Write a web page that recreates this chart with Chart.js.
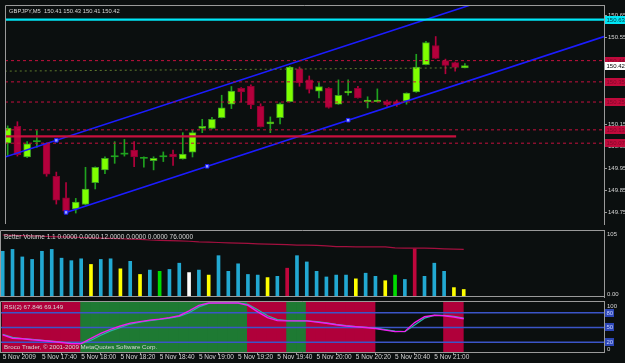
<!DOCTYPE html>
<html>
<head>
<meta charset="utf-8">
<title>GBPJPY,M5</title>
<script src="https://cdn.jsdelivr.net/npm/chart.js@4.4.1/dist/chart.umd.min.js"></script>
<style>
  html, body { margin: 0; padding: 0; background: #0b0f0f; }
  #terminal { position: relative; width: 625px; height: 363px; overflow: hidden; background: #0b0f0f; }
  #terminal canvas { position: absolute; left: 0; }
</style>
</head>
<body>
<div id="terminal">
  <canvas id="priceChart" width="625" height="229" style="top:0"></canvas>
  <canvas id="volumeChart" width="625" height="70" style="top:229px"></canvas>
  <canvas id="rsiChart" width="625" height="64" style="top:299px"></canvas>
</div>
<script>
// ---- data (5 Nov 2009, 17:20 .. 21:15, one bar per 5 min) ----
const symbol = 'GBPJPY,M5';

const opens = [150.066, 150.143, 150.003, 150.073, 150.066, 149.915, 149.816, 149.766, 149.786, 149.886,
  149.944, 150.004, 150.016, 150.034, 149.997, 149.986, 150.004, 150.016, 149.994, 150.025,
  150.133, 150.133, 150.183, 150.244, 150.316, 150.326, 150.234, 150.154, 150.183, 150.256,
  150.405, 150.355, 150.303, 150.316, 150.244, 150.295, 150.316, 150.256, 150.256, 150.256,
  150.256, 150.259, 150.300, 150.424, 150.512, 150.443, 150.434, 150.41];
const highs = [150.145, 150.164, 150.073, 150.124, 150.068, 149.934, 149.886, 149.814, 149.956, 149.958,
  150.004, 150.073, 150.083, 150.073, 150.004, 150.004, 150.026, 150.035, 150.114, 150.124,
  150.175, 150.184, 150.285, 150.325, 150.320, 150.333, 150.246, 150.186, 150.250, 150.417,
  150.414, 150.373, 150.343, 150.320, 150.355, 150.355, 150.326, 150.278, 150.314, 150.263,
  150.263, 150.296, 150.472, 150.531, 150.553, 150.450, 150.436, 150.43];
const lows = [150.009, 150.007, 150.000, 150.047, 149.915, 149.788, 149.750, 149.747, 149.784, 149.857,
  149.927, 149.974, 150.007, 149.959, 149.956, 149.944, 149.982, 149.964, 149.993, 150.003,
  150.114, 150.131, 150.181, 150.224, 150.254, 150.224, 150.140, 150.114, 150.154, 150.254,
  150.326, 150.295, 150.273, 150.226, 150.243, 150.285, 150.272, 150.227, 150.254, 150.234,
  150.234, 150.244, 150.298, 150.423, 150.452, 150.383, 150.395, 150.41];
const closes = [150.135, 150.014, 150.063, 150.073, 149.924, 149.806, 149.756, 149.797, 149.857, 149.956,
  149.997, 150.004, 150.016, 150.003, 149.997, 149.997, 150.004, 150.003, 150.016, 150.114,
  150.143, 150.175, 150.227, 150.304, 150.300, 150.241, 150.142, 150.164, 150.246, 150.414,
  150.341, 150.311, 150.325, 150.229, 150.284, 150.304, 150.273, 150.263, 150.263, 150.241,
  150.241, 150.295, 150.414, 150.525, 150.453, 150.421, 150.412, 150.42];

const priceTicks = [149.75, 149.85, 149.95, 150.05, 150.15, 150.25, 150.35, 150.45, 150.55, 150.65];
const askLevel = 150.63;
const dottedLevels = [150.443, 150.346, 150.254, 150.127, 150.066];
const solidLevel = { price: 150.097, untilBar: 46.1 };
const oliveLine = [[-0.3, 150.395], [46.3, 150.410]];
// channel: base line through two anchors, parallel through a third
const channelBase = [[6, 149.750], [35, 150.171]];
const channelTop = [5, 150.079];

const volumes = [73, 76, 64, 60, 73, 76, 62, 58, 61, 52, 60, 61, 45, 57, 36, 43, 41, 44, 54, 39,
  43, 35, 66, 41, 53, 36, 35, 31, 33, 46, 66, 56, 41, 32, 35, 35, 29, 38, 33, 26,
  35, 28, 77, 33, 54, 41, 15, 12];
const volumeKind = ['c', 'c', 'c', 'c', 'c', 'c', 'c', 'c', 'c', 'y', 'c', 'c', 'y', 'c', 'y', 'c', 'g', 'c', 'c', 'w',
  'c', 'y', 'c', 'c', 'c', 'c', 'c', 'y', 'c', 'r', 'c', 'c', 'c', 'c', 'c', 'c', 'y', 'c', 'c', 'y',
  'g', 'c', 'r', 'c', 'c', 'c', 'y', 'y'];
const volumeMA = [99, 98.5, 98, 97.5, 97, 96.5, 96, 95.5, 95, 94.5, 94, 93.5, 93, 92.5, 92, 91, 90.5, 90, 89.5, 89,
  88, 87.5, 87, 86.5, 86, 85.5, 85, 84.5, 84, 83.5, 83, 83, 82.5, 81.5, 80.5, 80.5, 80, 80, 80, 80,
  78.5, 78, 78, 78, 77.5, 77, 76.5, 76];
const volumeBuffers = [0, 0, 12, 0, 0, 76];
const volumeScaleMax = 105;

const rsiMain = [35, 28, 27, 25, 23.5, 21.5, 19.5, 17, 17, 28, 38, 46, 53, 59, 62, 65, 67, 70, 74, 84,
  95, 100, 100, 100, 100, 95, 82, 70, 64, 63.5, 63.5, 63.5, 61, 58.5, 55.5, 53, 51.5, 50, 48, 44.5,
  41.5, 42, 60, 72, 75, 74, 71.5, 67.846];
const rsiSignal = [36, 30, 27.5, 26, 24, 22, 20, 18, 17, 24, 34, 43, 50, 57, 61, 64, 66.5, 69, 72.5, 80,
  92, 99, 100, 100, 100, 97, 86, 74, 66, 64, 63.5, 63.5, 62, 59.5, 56.5, 54, 52, 50.5, 48.5, 45.5,
  42.5, 41.5, 55, 69, 74.5, 74.5, 72.5, 69.149];
const rsiZone = ['R', 'R', 'R', 'R', 'R', 'R', 'R', 'R', 'G', 'G', 'G', 'G', 'G', 'G', 'G', 'G', 'G', 'G', 'G', 'G',
  'G', 'G', 'G', 'G', 'G', 'R', 'R', 'R', 'R', 'G', 'G', 'R', 'R', 'R', 'R', 'R', 'R', 'R', '-', '-',
  '-', '-', '-', '-', '-', 'R', 'R', '-'];
const rsiLevels = [80, 50, 20];

const tickBars = [0, 4, 8, 12, 16, 20, 24, 28, 32, 36, 40, 44];
const timeLabels = ['5 Nov 2009', '5 Nov 17:40', '5 Nov 18:00', '5 Nov 18:20', '5 Nov 18:40', '5 Nov 19:00',
  '5 Nov 19:20', '5 Nov 19:40', '5 Nov 20:00', '5 Nov 20:20', '5 Nov 20:40', '5 Nov 21:00'];

// ---- look ----
const FRAME = '#9a9a9a';
const TEXT = '#d6d6d6';
const FONT = "'Liberation Sans', Arial, sans-serif";
const xMin = -0.275, xMax = 61.3;

const colors = {
  bullBody: '#7fff00', bullEdge: '#3d9e22', bullWick: '#1fa21f',
  bearBody: '#b4003c', bearEdge: '#8e0030', bearWick: '#b4003c',
  volume: { c: '#22a9d2', y: '#ffff00', g: '#00dc00', w: '#ffffff', r: '#c0063c' },
  zone: { R: '#b0003a', G: '#1e7a33' }
};

Chart.defaults.font.family = FONT;
Chart.defaults.color = TEXT;
Chart.defaults.animation = false;
Chart.defaults.responsive = false;
Chart.defaults.devicePixelRatio = 1;
Chart.defaults.plugins.legend.display = false;
Chart.defaults.plugins.tooltip.enabled = false;

const bars = opens.map((_, i) => i);
const isDoji = i => opens[i] === closes[i];
const isBull = i => closes[i] > opens[i];

function flatLine(price, from, to) {
  return [{ x: from, y: price }, { x: to, y: price }];
}

function lineSet(data, color, width, dash, order) {
  return {
    type: 'line', data, borderColor: color, borderWidth: width, borderDash: dash || [],
    pointRadius: 0, fill: false, tension: 0, order: order || 1
  };
}

function hiddenX() {
  return { type: 'linear', min: xMin, max: xMax, offset: false, display: false };
}

function fixWidth(scale) { scale.width = 21; }

// grey frame round each panel
const panelFrame = {
  id: 'panelFrame',
  afterDatasetsDraw(chart, args, opts) {
    const { ctx, chartArea: a } = chart;
    ctx.save();
    ctx.strokeStyle = FRAME;
    ctx.lineWidth = 1;
    ctx.beginPath();
    ctx.moveTo(a.left + 0.5, a.bottom);
    ctx.lineTo(a.left + 0.5, a.top + 0.5);
    ctx.lineTo(a.right, a.top + 0.5);
    if (opts.bottom) {
      ctx.moveTo(a.left, a.bottom - 0.5);
      ctx.lineTo(a.right, a.bottom - 0.5);
    }
    ctx.stroke();
    ctx.restore();
  }
};

// panel caption text in the top left corner
const caption = {
  id: 'caption',
  afterDraw(chart, args, opts) {
    const { ctx, chartArea: a } = chart;
    ctx.save();
    ctx.fillStyle = TEXT;
    ctx.textBaseline = 'middle';
    opts.lines.forEach(l => {
      ctx.font = (l.size || 6.5) + 'px ' + FONT;
      ctx.fillText(l.text, a.left + 4, l.atBottom ? a.bottom - 4.5 : a.top + l.dy);
    });
    ctx.restore();
  }
};

// coloured price boxes on the right axis
const priceTags = {
  id: 'priceTags',
  afterDraw(chart, args, opts) {
    const { ctx, chartArea: a } = chart;
    const y = chart.scales.y;
    ctx.save();
    ctx.font = '6px ' + FONT;
    ctx.textBaseline = 'middle';
    opts.tags.forEach(t => {
      const py = Math.round(y.getPixelForValue(t.value));
      ctx.fillStyle = t.bg;
      ctx.fillRect(a.right + 1, py - 4, t.w || 20, 8);
      ctx.fillStyle = t.fg;
      ctx.fillText(t.text, a.right + 2.5, py + 0.5);
    });
    (opts.scaleLabels || []).forEach(t => {
      ctx.fillStyle = TEXT;
      ctx.textBaseline = t.base;
      ctx.fillText(t.text, a.right + 3, y.getPixelForValue(t.value));
    });
    ctx.restore();
  }
};

// ---- price panel ----
const slope = (channelBase[1][1] - channelBase[0][1]) / (channelBase[1][0] - channelBase[0][0]);
const baseAt = x => channelBase[0][1] + slope * (x - channelBase[0][0]);
const topAt = x => channelTop[1] + slope * (x - channelTop[0]);
const midBar = (channelBase[0][0] + channelBase[1][0]) / 2;

const priceDatasets = [
  lineSet(flatLine(askLevel, xMin, xMax), '#00e6f6', 2.2),
  ...dottedLevels.map(p => lineSet(flatLine(p, xMin, xMax), '#c4103e', 1, [3, 3])),
  lineSet(flatLine(solidLevel.price, xMin, solidLevel.untilBar), '#c8103e', 2.4),
  lineSet(oliveLine.map(([x, y]) => ({ x, y })), '#5f7a2e', 1, [2, 3]),
  lineSet([{ x: channelBase[0][0], y: channelBase[0][1] }, { x: xMax, y: baseAt(xMax) }], '#1c1cff', 1.6),
  lineSet([{ x: xMin, y: topAt(xMin) }, { x: xMax, y: topAt(xMax) }], '#1c1cff', 1.6),
  {
    type: 'line', showLine: false, order: 0,
    data: [
      { x: channelBase[0][0], y: channelBase[0][1] },
      { x: midBar, y: baseAt(midBar) },
      { x: channelBase[1][0], y: channelBase[1][1] },
      { x: channelTop[0], y: channelTop[1] }
    ],
    pointStyle: 'rect', pointRadius: 2.5, pointBackgroundColor: '#9aa6ff',
    pointBorderColor: '#1c1cff', pointBorderWidth: 1
  },
  {
    type: 'bar', order: 3, grouped: false, barThickness: 7, minBarLength: 1,
    data: bars.map(i => ({ x: i, y: [opens[i], closes[i]] })),
    backgroundColor: bars.map(i => isDoji(i) ? colors.bullWick : isBull(i) ? colors.bullBody : colors.bearBody),
    borderColor: bars.map(i => isBull(i) ? colors.bullEdge : colors.bearEdge),
    borderWidth: bars.map(i => isDoji(i) ? 0 : 1),
    borderSkipped: false
  },
  {
    type: 'bar', order: 4, grouped: false, barThickness: 1,
    data: bars.map(i => ({ x: i, y: [lows[i], highs[i]] })),
    backgroundColor: bars.map(i => isBull(i) || isDoji(i) ? colors.bullWick : colors.bearWick)
  }
];

const last = opens.length - 1;
new Chart(document.getElementById('priceChart'), {
  type: 'bar',
  data: { datasets: priceDatasets },
  options: {
    layout: { padding: { top: 1, bottom: 0, left: 0, right: 0 } },
    scales: {
      x: hiddenX(),
      y: {
        position: 'right', min: 149.697, max: 150.697,
        afterFit: fixWidth,
        afterBuildTicks: s => { s.ticks = priceTicks.map(v => ({ value: v })); },
        grid: { drawOnChartArea: false, color: FRAME, tickLength: 3 },
        border: { color: FRAME },
        ticks: { font: { size: 6 }, padding: 1, color: TEXT, callback: v => v.toFixed(2) }
      }
    },
    plugins: {
      panelFrame: {},
      caption: {
        lines: [{
          text: `${symbol}  ${opens[last].toFixed(2)} ${highs[last].toFixed(2)} ${lows[last].toFixed(2)} ${closes[last].toFixed(2)}`,
          dy: 6, size: 5.8
        }]
      },
      priceTags: {
        tags: [
          { value: askLevel, text: askLevel.toFixed(2), bg: '#00e6f6', fg: '#06363c' },
          ...dottedLevels.map(p => ({ value: p, text: p.toFixed(2), bg: '#c00a3c', fg: '#7e0828' })),
          { value: closes[last], text: closes[last].toFixed(2), bg: '#ffffff', fg: '#000000' }
        ]
      }
    }
  },
  plugins: [panelFrame, caption, priceTags]
});

// ---- volume panel ----
new Chart(document.getElementById('volumeChart'), {
  type: 'bar',
  data: {
    datasets: [
      lineSet(bars.map(i => ({ x: i, y: volumeMA[i] })), '#a3103f', 1.2, [], 1),
      {
        type: 'bar', order: 2, barThickness: 3,
        data: bars.map(i => ({ x: i, y: volumes[i] })),
        backgroundColor: bars.map(i => colors.volume[volumeKind[i]])
      }
    ]
  },
  options: {
    layout: { padding: { top: 1, bottom: 2, left: 0, right: 0 } },
    scales: {
      x: hiddenX(),
      y: {
        position: 'right', min: 0, max: 107,
        afterFit: fixWidth,
        grid: { display: false },
        border: { color: FRAME },
        ticks: { display: false }
      }
    },
    plugins: {
      panelFrame: { bottom: true },
      caption: {
        lines: [{ text: 'Better Volume 1.1 ' + volumeBuffers.map(v => v.toFixed(4)).join(' '), dy: 7.5 }]
      },
      priceTags: {
        tags: [],
        scaleLabels: [
          { value: volumeScaleMax, text: String(volumeScaleMax), base: 'top' },
          { value: 0, text: '0.00', base: 'bottom' }
        ]
      }
    }
  },
  plugins: [panelFrame, caption, priceTags]
});

// ---- RSI panel ----
new Chart(document.getElementById('rsiChart'), {
  type: 'bar',
  data: {
    datasets: [
      lineSet(bars.map(i => ({ x: i, y: rsiMain[i] })), '#f01ef0', 1.4, [], 1),
      lineSet(bars.map(i => ({ x: i, y: rsiSignal[i] })), '#2ab4a6', 1.2, [], 2),
      ...rsiLevels.map(l => lineSet(flatLine(l, xMin, xMax), '#3b55c8', 1.4, [], 3)),
      {
        type: 'bar', order: 5, barThickness: 10,
        data: bars.filter(i => rsiZone[i] !== '-').map(i => ({ x: i + 0.45, y: [0, 104] })),
        backgroundColor: bars.filter(i => rsiZone[i] !== '-').map(i => colors.zone[rsiZone[i]])
      }
    ]
  },
  options: {
    layout: { padding: { top: 2, bottom: 0, left: 0, right: 0 } },
    scales: {
      x: {
        type: 'linear', min: xMin, max: xMax, offset: false,
        afterFit: s => { s.height = 11; },
        afterBuildTicks: s => { s.ticks = tickBars.map(v => ({ value: v })); },
        grid: { drawOnChartArea: false, color: FRAME, tickLength: 3 },
        border: { color: FRAME },
        ticks: {
          font: { size: 6.5 }, color: TEXT, align: 'start', padding: -2,
          autoSkip: false, maxRotation: 0,
          callback: (v, i) => timeLabels[i]
        }
      },
      y: {
        position: 'right', min: 0, max: 104,
        afterFit: fixWidth,
        grid: { display: false },
        border: { color: FRAME },
        ticks: { display: false }
      }
    },
    plugins: {
      panelFrame: {},
      caption: {
        lines: [
          { text: `RSI(2) ${rsiMain[last].toFixed(3)} ${rsiSignal[last].toFixed(3)}`, dy: 6, size: 6.2 },
          { text: 'Broco Trader, © 2001-2009 MetaQuotes Software Corp.', atBottom: true, size: 6.2 }
        ]
      },
      priceTags: {
        tags: rsiLevels.map(l => ({ value: l, text: String(l), bg: '#2c46b6', fg: '#c6d0ff', w: 9 })),
        scaleLabels: [
          { value: 100, text: '100', base: 'top' },
          { value: 0, text: '0', base: 'bottom' }
        ]
      }
    }
  },
  plugins: [panelFrame, caption, priceTags]
});
</script>
</body>
</html>
